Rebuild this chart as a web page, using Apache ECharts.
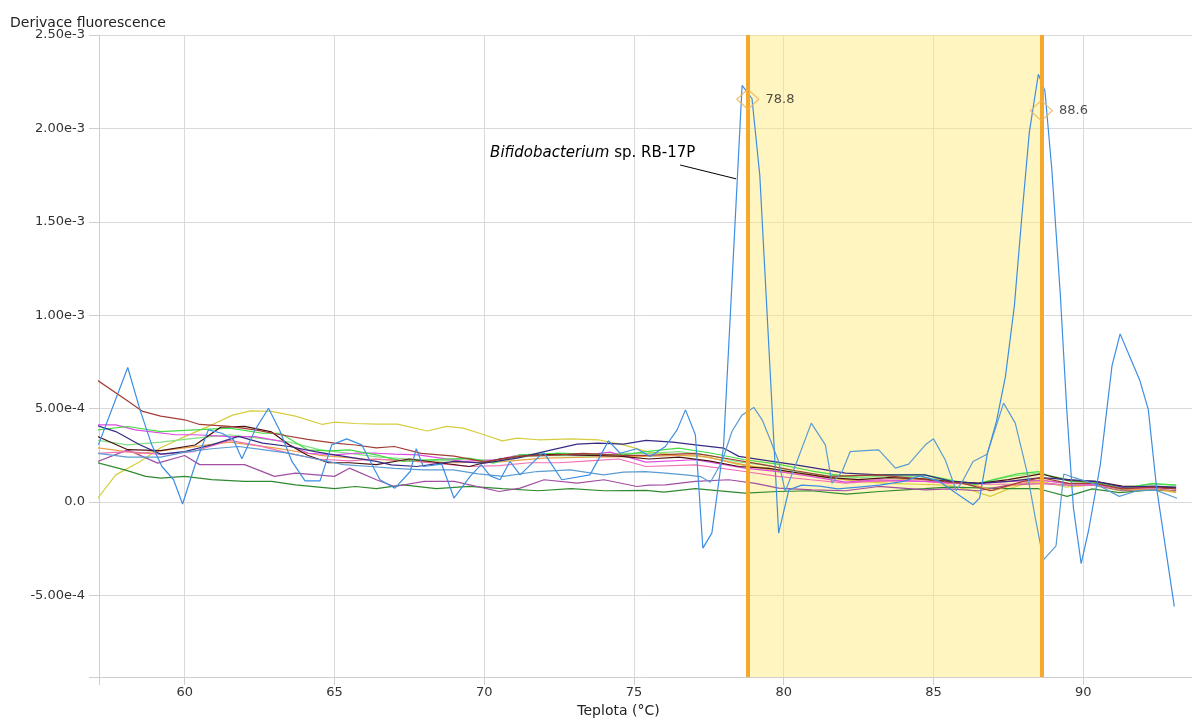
<!DOCTYPE html>
<html>
<head>
<meta charset="utf-8">
<script src="https://cdn.jsdelivr.net/npm/echarts@6/dist/echarts.min.js"></script>
<style>html,body{margin:0;padding:0;background:#fff}#c{width:1192px;height:720px}</style>
</head>
<body>
<div id="c"></div>
<script>
// values: [temperature °C, derivative ×1e-4]
const xTicks = [60, 65, 70, 75, 80, 85, 90];
const yTicks = [-5, 0, 5, 10, 15, 20, 25];
const peakTemps = [78.8, 88.6];
const peakValues = [21.56, 20.95];
const bandRange = [78.8, 88.6];

const brownCurve = [[57.1,6.5],[58.1,5.4],[58.6,4.85],[59.2,4.6],[60.0,4.4],[60.5,4.15],[61.5,4.05],[62.4,3.85],[63.2,3.6],[64.1,3.35],[65.0,3.15],[65.7,3.05],[66.4,2.9],[67.0,2.97],[67.9,2.6],[69.0,2.45],[70.0,2.15],[71.2,2.45],[72.2,2.5],[73.3,2.6],[74.6,2.5],[75.4,2.5],[77.05,2.6],[78.2,2.3],[79.3,2.0],[80.4,1.67],[81.5,1.37],[83.2,1.45],[84.7,1.2],[86.0,1.0],[86.9,0.6],[88.0,1.1],[88.6,1.3],[89.5,1.0],[90.4,1.0],[91.3,0.7],[92.3,0.8],[93.1,0.7]];
const yellowCurve = [[57.1,0.2],[57.7,1.45],[58.5,2.15],[59.2,2.9],[60.0,3.5],[60.8,4.05],[61.6,4.65],[62.2,4.88],[62.9,4.85],[63.7,4.6],[64.6,4.15],[65.0,4.27],[65.7,4.2],[66.4,4.17],[67.1,4.17],[68.1,3.8],[68.75,4.05],[69.3,3.95],[70.0,3.6],[70.6,3.27],[71.1,3.42],[71.8,3.33],[72.9,3.38],[73.8,3.33],[74.65,3.06],[75.5,2.67],[76.5,2.5],[77.5,2.4],[78.5,2.0],[79.5,1.8],[80.5,1.5],[81.5,1.3],[82.5,1.1],[83.5,1.0],[84.5,0.95],[85.5,0.9],[86.3,0.6],[86.9,0.3],[87.5,0.7],[88.0,0.95],[88.6,1.1],[89.4,0.8],[90.3,0.9],[91.2,0.6],[92.3,0.7],[93.1,0.5]];
const darkGreenCurve = [[57.1,2.1],[58.0,1.72],[58.7,1.37],[59.2,1.28],[60.0,1.37],[60.9,1.2],[62.0,1.1],[62.9,1.1],[63.7,0.92],[65.0,0.71],[65.7,0.83],[66.4,0.71],[67.3,0.92],[68.4,0.71],[69.5,0.83],[70.6,0.71],[71.8,0.6],[72.9,0.71],[74.0,0.6],[75.4,0.62],[76.0,0.53],[77.05,0.71],[78.7,0.47],[79.8,0.56],[80.9,0.6],[82.1,0.42],[83.2,0.56],[84.7,0.71],[85.5,0.8],[86.5,0.75],[87.5,0.72],[88.5,0.71],[89.46,0.3],[90.3,0.7],[91.2,0.5],[92.3,0.65],[93.1,0.6]];
const purpleCurve = [[57.1,2.17],[58.1,2.79],[59.1,2.08],[60.0,2.49],[60.5,2.0],[61.5,2.0],[62.0,2.0],[63.0,1.37],[63.7,1.54],[65.0,1.37],[65.5,1.81],[66.4,1.19],[67.0,0.83],[68.0,1.1],[69.0,1.1],[70.5,0.56],[71.2,0.74],[72.0,1.19],[73.1,1.01],[74.0,1.19],[75.1,0.83],[75.5,0.9],[76.05,0.92],[77.05,1.1],[78.16,1.19],[79.05,1.0],[79.83,0.74],[80.94,0.65],[82.06,0.6],[83.17,0.83],[84.73,0.65],[85.5,0.7],[86.5,0.6],[87.5,0.9],[88.6,1.0],[89.5,0.9],[90.4,0.9],[91.3,0.6],[92.3,0.7],[93.1,0.6]];
const magentaCurve = [[57.1,4.13],[57.7,4.13],[58.35,3.86],[59.7,3.6],[60.35,3.6],[61.5,3.5],[62.35,3.5],[63.24,3.24],[64.13,2.61],[65.0,2.52],[65.7,2.61],[66.4,2.61],[67.0,2.56],[67.8,2.52],[69.3,2.17],[70.4,2.26],[71.2,2.52],[72.4,2.56],[73.3,2.49],[74.2,2.67],[75.4,2.13],[77.05,2.26],[78.7,1.81],[79.8,1.63],[80.9,1.37],[82.06,1.06],[83.17,1.19],[84.73,1.1],[85.5,1.05],[86.5,1.0],[87.5,1.1],[88.6,1.15],[89.5,1.0],[90.4,0.95],[91.3,0.75],[92.3,0.8],[93.1,0.75]];
const greenCurve = [[57.1,3.86],[58.1,4.04],[59.2,3.77],[60.35,3.86],[61.5,3.95],[62.6,3.68],[63.2,3.68],[64.1,2.79],[64.8,2.74],[65.5,2.79],[66.4,2.52],[67.3,2.17],[68.2,2.26],[69.5,2.35],[70.3,2.08],[71.2,2.52],[72.4,2.61],[73.5,2.56],[74.65,2.52],[75.4,2.7],[76.5,2.88],[77.6,2.61],[78.7,2.26],[79.8,2.03],[80.9,1.67],[82.06,1.37],[83.2,1.45],[84.7,1.45],[85.5,1.2],[86.3,0.9],[87.0,1.2],[87.8,1.5],[88.5,1.63],[89.0,1.3],[89.6,1.1],[90.4,1.05],[91.3,0.7],[92.3,1.0],[93.1,0.9]];
const navyCurve = [[57.1,4.08],[57.7,3.77],[58.5,3.06],[59.2,2.56],[60.0,2.7],[60.9,3.06],[61.8,3.51],[62.6,3.15],[63.5,2.97],[64.35,2.7],[65.0,2.52],[66.4,2.17],[66.9,1.99],[67.75,1.9],[69.0,2.17],[70.0,2.08],[71.1,2.35],[72.0,2.7],[73.1,3.1],[73.8,3.15],[74.65,3.1],[75.4,3.3],[76.3,3.2],[77.05,3.06],[78.0,2.88],[78.5,2.44],[79.05,2.31],[80.4,1.99],[82.06,1.54],[83.2,1.45],[84.7,1.45],[85.6,1.1],[86.5,1.0],[87.5,1.1],[88.6,1.3],[89.5,1.2],[90.4,1.1],[91.3,0.8],[92.3,0.85],[93.1,0.8]];
const maroonCurve = [[57.1,3.5],[58.1,2.8],[59.2,2.75],[60.35,3.05],[61.2,4.0],[62.0,4.05],[62.9,3.75],[63.5,3.05],[64.1,2.5],[64.8,2.1],[65.5,2.1],[66.4,2.0],[67.5,2.3],[68.5,2.1],[69.5,1.9],[70.5,2.3],[71.5,2.5],[72.5,2.55],[73.5,2.5],[74.5,2.45],[75.5,2.3],[76.5,2.4],[77.5,2.2],[78.5,1.9],[79.5,1.8],[80.5,1.55],[81.5,1.3],[82.5,1.2],[83.5,1.3],[84.5,1.25],[85.5,1.1],[86.5,1.0],[87.5,1.2],[88.6,1.5],[89.5,1.15],[90.4,1.1],[91.3,0.85],[92.3,0.8],[93.1,0.75]];
const pinkCurve = [[57.1,2.6],[58.1,2.7],[59.2,2.55],[60.3,2.7],[61.5,3.3],[62.5,3.0],[63.5,2.6],[64.4,2.3],[65.5,2.2],[66.4,2.3],[67.5,2.2],[68.5,2.05],[69.5,1.9],[70.5,1.95],[71.5,2.1],[72.5,2.1],[73.5,2.2],[74.5,2.3],[75.4,1.9],[77.05,1.99],[78.7,1.63],[79.8,1.37],[80.9,1.19],[82.06,1.01],[83.2,1.13],[84.7,1.1],[85.5,1.0],[86.5,0.95],[87.5,0.95],[88.6,1.0],[89.5,0.9],[90.4,0.9],[91.3,0.7],[92.3,0.75],[93.1,0.7]];
const limeCurve = [[57.1,3.3],[58.1,3.06],[59.2,3.2],[60.3,3.4],[61.5,3.6],[62.5,3.4],[63.5,3.2],[64.5,2.8],[65.5,2.6],[66.5,2.4],[67.5,2.3],[68.5,2.2],[69.5,2.3],[70.5,2.2],[71.5,2.45],[72.5,2.5],[73.5,2.45],[74.5,2.6],[75.5,2.6],[76.5,2.7],[77.5,2.5],[78.5,2.15],[79.5,1.95],[80.5,1.6],[81.5,1.4],[82.5,1.3],[83.5,1.4],[84.5,1.35],[85.5,1.15],[86.5,1.0],[87.5,1.35],[88.5,1.55],[89.5,1.2],[90.4,1.0],[91.3,0.8],[92.3,0.95],[93.1,0.9]];
const orangeCurve = [[57.1,2.9],[58.5,2.6],[60.0,2.9],[61.5,3.2],[63.0,2.9],[64.5,2.5],[66.0,2.3],[67.5,2.2],[69.0,2.1],[70.5,2.15],[72.0,2.35],[73.5,2.4],[75.4,2.44],[77.05,2.52],[78.7,1.99],[79.8,1.63],[80.9,1.45],[82.06,1.19],[83.17,1.1],[84.73,1.28],[85.5,1.1],[86.5,0.85],[87.0,0.6],[87.5,0.85],[88.6,1.2],[89.5,0.95],[90.4,0.95],[91.3,0.65],[92.3,0.7],[93.1,0.55]];
const steelBlueCurve = [[57.1,2.6],[58.1,2.4],[59.2,2.4],[60.0,2.67],[60.9,2.85],[61.8,2.97],[62.6,2.8],[63.5,2.6],[64.4,2.3],[65.3,2.0],[66.2,1.9],[67.0,1.8],[67.97,1.72],[68.97,1.72],[69.8,1.5],[70.64,1.37],[71.76,1.63],[72.87,1.72],[73.98,1.45],[74.65,1.6],[75.38,1.63],[76.05,1.54],[76.72,1.45],[77.22,1.36],[77.55,1.06],[77.94,2.17],[78.27,3.77],[78.61,4.66],[79.0,5.06],[79.28,4.4],[79.55,3.33],[79.83,2.17],[80.05,0.56],[80.44,2.17],[80.92,4.22],[81.39,3.06],[81.61,1.01],[81.95,1.63],[82.22,2.7],[82.7,2.75],[83.17,2.79],[83.73,1.81],[84.17,2.03],[84.73,3.06],[85.0,3.38],[85.39,2.26],[85.76,0.6],[86.0,1.2],[86.32,2.17],[86.79,2.56],[87.34,5.29],[87.73,4.22],[88.12,1.63],[88.4,-0.86],[88.67,-3.1],[89.09,-2.35],[89.35,1.5],[89.7,1.3],[90.1,1.1],[90.5,0.9],[91.2,0.3],[91.8,0.6],[92.4,0.65],[93.13,0.2]];
const bifidoCurve = [[57.12,3.06],[58.1,7.2],[58.51,4.93],[58.9,3.06],[59.24,1.9],[59.63,1.19],[59.93,-0.11],[60.35,1.99],[60.79,3.86],[61.24,3.68],[61.63,3.33],[61.91,2.31],[62.35,3.86],[62.8,5.02],[63.19,3.77],[63.58,2.17],[64.02,1.13],[64.52,1.13],[64.91,3.06],[65.41,3.38],[65.91,3.06],[66.36,1.67],[66.52,1.19],[67.02,0.74],[67.53,1.63],[67.73,2.85],[67.97,1.9],[68.58,2.03],[68.99,0.21],[69.53,1.37],[69.9,2.0],[70.2,1.4],[70.53,1.19],[70.86,2.17],[71.2,1.45],[71.98,2.67],[72.59,1.19],[73.53,1.45],[74.15,3.27],[74.54,2.61],[75.09,2.85],[75.54,2.44],[76.05,2.97],[76.44,3.86],[76.72,4.93],[77.05,3.6],[77.3,-2.47],[77.6,-1.67],[77.99,2.97],[78.3,12.6],[78.61,22.3],[78.94,21.6],[79.2,17.5],[79.52,7.8],[79.83,-1.67],[80.17,0.65],[80.6,0.9],[81.2,0.85],[81.8,0.7],[82.5,0.8],[83.2,0.9],[84.0,1.1],[84.56,1.4],[85.2,1.1],[85.76,0.47],[86.32,-0.15],[86.54,0.21],[86.8,2.6],[87.1,4.3],[87.4,6.7],[87.7,10.5],[87.95,15.3],[88.2,19.8],[88.5,22.9],[88.72,22.0],[88.95,17.8],[89.23,11.2],[89.45,4.9],[89.67,-0.3],[89.93,-3.3],[90.18,-1.5],[90.57,2.0],[90.96,7.3],[91.23,9.0],[91.6,7.6],[91.89,6.5],[92.17,4.96],[92.45,0.73],[92.75,-2.5],[93.04,-5.6]];
const annotationAnchor = [77.05, 18.68];
const leaderFrom = [76.54, 18.04];
const leaderTo = [78.41, 17.3];

const FONT = '"DejaVu Sans", Verdana, sans-serif';
const curves = [
  {data: yellowCurve, color: '#d6cd3e'},
  {data: darkGreenCurve, color: '#2f8a2f'},
  {data: purpleCurve, color: '#a24ea2'},
  {data: orangeCurve, color: '#e8a048'},
  {data: pinkCurve, color: '#f070b4'},
  {data: limeCurve, color: '#84e084'},
  {data: magentaCurve, color: '#e04ce0'},
  {data: greenCurve, color: '#46dc46'},
  {data: maroonCurve, color: '#4a1212'},
  {data: navyCurve, color: '#372c84'},
  {data: brownCurve, color: '#a23d35'},
  {data: steelBlueCurve, color: '#5a9cd2'},
  {data: bifidoCurve, color: '#3d8ee3'}
];

const chart = echarts.init(document.getElementById('c'), null, {renderer: 'canvas'});
const isTick = (v, list) => list.some(t => Math.abs(t - v) < 1e-6);

const series = curves.map((c) => ({
  type: 'line', data: c.data, showSymbol: false, symbol: 'none',
  lineStyle: {color: c.color, width: 1.2}, itemStyle: {color: c.color},
  silent: true, animation: false, z: 2
}));
// annotation on the Bifidobacterium curve
series[series.length - 1].markPoint = {
  symbol: 'circle', symbolSize: 0, silent: true, animation: false,
  data: [{coord: annotationAnchor}],
  label: {
    show: true, position: 'left', distance: 0, color: '#000', fontFamily: FONT, fontSize: 15,
    formatter: () => '{i|Bifidobacterium} sp. RB-17P',
    rich: {i: {fontStyle: 'italic', fontFamily: FONT, fontSize: 15, color: '#000'}}
  }
};
series[series.length - 1].markLine = {
  symbol: 'none', silent: true, animation: false, label: {show: false},
  lineStyle: {color: '#000', width: 1, type: 'solid'},
  data: [[{coord: leaderFrom}, {coord: leaderTo}]]
};
// peak markers, melt band and cursor lines
series.push({
  type: 'scatter', z: 6, silent: true, animation: false,
  data: peakTemps.map((t, i) => [t, peakValues[i]]),
  symbol: 'diamond', symbolSize: [22, 20],
  itemStyle: {color: 'rgba(0,0,0,0)', borderColor: '#eeb458', borderWidth: 1.3},
  label: {show: true, position: 'right', distance: 6, color: '#222', fontFamily: FONT, fontSize: 13,
    formatter: p => p.value[0].toFixed(1)},
  markArea: {
    silent: true, animation: false,
    itemStyle: {color: 'rgba(255,233,115,0.45)'},
    data: [[{xAxis: bandRange[0]}, {xAxis: bandRange[1]}]]
  },
  markLine: {
    symbol: 'none', silent: true, animation: false, label: {show: false},
    lineStyle: {color: '#f4a82c', width: 4, type: 'solid'},
    data: peakTemps.map(t => ({xAxis: t}))
  }
});

chart.setOption({
  animation: false,
  backgroundColor: '#fff',
  title: {text: 'Derivace fluorescence', left: 5, top: 11,
    textStyle: {fontFamily: FONT, fontSize: 14, fontWeight: 'normal', color: '#222'}},
  grid: {left: 99, top: 35, right: 0, bottom: 43, outerBoundsMode: 'none', containLabel: false},
  xAxis: {
    type: 'value', min: 57.14, max: 93.63, splitNumber: 7, minInterval: 5, maxInterval: 5,
    name: 'Teplota (°C)', nameLocation: 'middle', nameGap: 26,
    nameTextStyle: {fontFamily: FONT, fontSize: 14, color: '#222', padding: [0, 54, 0, 0]},
    axisLine: {onZero: false, lineStyle: {color: '#cfcfcf', width: 1}},
    axisTick: {show: true, length: 8, lineStyle: {color: '#cfcfcf'}},
    axisLabel: {fontFamily: FONT, fontSize: 13, color: '#333', margin: 9,
      showMinLabel: true, showMaxLabel: true,
      formatter: v => isTick(v, xTicks) ? String(v) : ''},
    splitLine: {show: true, lineStyle: {color: '#dadada', width: 1}}
  },
  yAxis: {
    type: 'value', min: -9.37, max: 25, splitNumber: 7, minInterval: 5, maxInterval: 5,
    axisLine: {show: true, onZero: false, lineStyle: {color: '#cfcfcf', width: 1}},
    axisTick: {show: true, length: 10, lineStyle: {color: '#cfcfcf'}},
    axisLabel: {fontFamily: FONT, fontSize: 13, color: '#333', margin: 14,
      formatter: v => {
        if (!isTick(v, yTicks)) return '';
        if (Math.abs(v) < 1e-9) return '0.0';
        return (v * 1e-4).toExponential(2);
      }},
    splitLine: {show: true, lineStyle: {color: '#dadada', width: 1}}
  },
  series: series
});
</script>
</body>
</html>
